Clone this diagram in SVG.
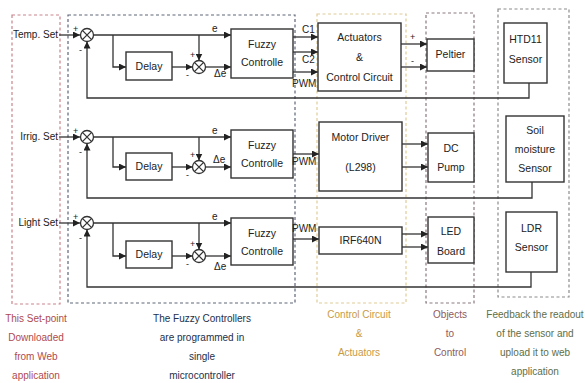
<svg xmlns="http://www.w3.org/2000/svg" width="585" height="383" viewBox="0 0 585 383">
<defs>
<marker id="ah" viewBox="0 0 8 8" refX="8" refY="4" markerWidth="7" markerHeight="7" markerUnits="userSpaceOnUse" orient="auto">
<path d="M0,0 L8,4 L0,8 Z" fill="#222"/>
</marker>
<style>
text{font-family:"Liberation Sans",Arial,sans-serif;font-size:10.5px;fill:#222}
.c{text-anchor:middle}
.s{font-size:10px}
.box{fill:#fff;stroke:#333;stroke-width:1.4}
.ln{fill:none;stroke:#333;stroke-width:1.3}
.ar{fill:none;stroke:#333;stroke-width:1.3;marker-end:url(#ah)}
.sum{fill:#fff;stroke:#333;stroke-width:1.3}
.dash{fill:none;stroke-width:1.2;stroke-dasharray:3,2.5}
.sm{font-size:9px}
</style>
</defs>
<rect width="585" height="383" fill="#fff"/>

<g id="groups">
<rect class="dash" x="12" y="15" width="48" height="289" stroke="#c9838a"/>
<rect class="dash" x="68" y="15" width="227" height="288" stroke="#5d6678"/>
<rect class="dash" x="317" y="14" width="89" height="289" stroke="#e0cc98"/>
<rect class="dash" x="426" y="13" width="48" height="290" stroke="#8a7a80"/>
<rect class="dash" x="498" y="9" width="71" height="288" stroke="#8c8c8c"/>
</g>

<g id="connectors">
<!-- row 1 -->
<line class="ar" x1="59" y1="35" x2="80" y2="35"/>
<line class="ar" x1="93.5" y1="35" x2="231" y2="35"/>
<polyline class="ar" points="113,35 113,67 126,67"/>
<line class="ar" x1="172" y1="67" x2="192.5" y2="67"/>
<line class="ar" x1="199" y1="35" x2="199" y2="60.5"/>
<line class="ar" x1="205.5" y1="67" x2="231" y2="67"/>
<polyline class="ar" points="529,83 529,98 87,98 87,41.5"/>
<line class="ar" x1="293" y1="37" x2="318" y2="37"/>
<line class="ar" x1="293" y1="52" x2="318" y2="52"/>
<line class="ar" x1="293" y1="72" x2="318" y2="72"/>
<line class="ar" x1="401" y1="44" x2="427" y2="44"/>
<line class="ar" x1="401" y1="67" x2="427" y2="67"/>
<!-- row 2 -->
<line class="ar" x1="59" y1="137" x2="80" y2="137"/>
<line class="ar" x1="93.5" y1="137" x2="231" y2="137"/>
<polyline class="ar" points="113,137 113,167 126,167"/>
<line class="ar" x1="172" y1="167" x2="192.5" y2="167"/>
<line class="ar" x1="199" y1="137" x2="199" y2="160.5"/>
<line class="ar" x1="205.5" y1="167" x2="231" y2="167"/>
<polyline class="ar" points="532,182 532,198 87,198 87,143.5"/>
<line class="ar" x1="293" y1="154" x2="319" y2="154"/>
<line class="ar" x1="402" y1="144" x2="428" y2="144"/>
<line class="ar" x1="402" y1="167" x2="428" y2="167"/>
<!-- row 3 -->
<line class="ar" x1="59" y1="223" x2="80" y2="223"/>
<line class="ar" x1="93.5" y1="223" x2="231" y2="223"/>
<polyline class="ar" points="113,223 113,256 126,256"/>
<line class="ar" x1="172" y1="256" x2="192.5" y2="256"/>
<line class="ar" x1="199" y1="223" x2="199" y2="249.5"/>
<line class="ar" x1="205.5" y1="256" x2="231" y2="256"/>
<polyline class="ar" points="531,272 531,287 87,287 87,229.5"/>
<line class="ar" x1="293" y1="239" x2="319" y2="239"/>
<line class="ar" x1="402" y1="234" x2="428" y2="234"/>
<line class="ar" x1="402" y1="247" x2="428" y2="247"/>
</g>

<g id="sum1a"><circle class="sum" cx="87" cy="35" r="6.5"/><path class="ln" d="M82.4,30.4 L91.6,39.6 M91.6,30.4 L82.4,39.6"/></g>
<g id="sum1b"><circle class="sum" cx="199" cy="67" r="6.5"/><path class="ln" d="M194.4,62.4 L203.6,71.6 M203.6,62.4 L194.4,71.6"/></g>
<g id="sum2a"><circle class="sum" cx="87" cy="137" r="6.5"/><path class="ln" d="M82.4,132.4 L91.6,141.6 M91.6,132.4 L82.4,141.6"/></g>
<g id="sum2b"><circle class="sum" cx="199" cy="167" r="6.5"/><path class="ln" d="M194.4,162.4 L203.6,171.6 M203.6,162.4 L194.4,171.6"/></g>
<g id="sum3a"><circle class="sum" cx="87" cy="223" r="6.5"/><path class="ln" d="M82.4,218.4 L91.6,227.6 M91.6,218.4 L82.4,227.6"/></g>
<g id="sum3b"><circle class="sum" cx="199" cy="256" r="6.5"/><path class="ln" d="M194.4,251.4 L203.6,260.6 M203.6,251.4 L194.4,260.6"/></g>

<g id="delay1"><rect class="box" x="126" y="52" width="46" height="28"/><text class="c" x="149" y="70">Delay</text></g>
<g id="delay2"><rect class="box" x="126" y="153" width="46" height="27"/><text class="c" x="149" y="170">Delay</text></g>
<g id="delay3"><rect class="box" x="126" y="241" width="46" height="27"/><text class="c" x="149" y="258">Delay</text></g>

<g id="fuzzy1"><rect class="box" x="231" y="29" width="62" height="49"/><text class="c" x="262" y="48">Fuzzy</text><text class="c" x="262" y="66">Controlle</text></g>
<g id="fuzzy2"><rect class="box" x="231" y="130" width="62" height="48"/><text class="c" x="262" y="149">Fuzzy</text><text class="c" x="262" y="167">Controlle</text></g>
<g id="fuzzy3"><rect class="box" x="231" y="218" width="62" height="47"/><text class="c" x="262" y="237">Fuzzy</text><text class="c" x="262" y="255">Controlle</text></g>

<g id="actuators"><rect class="box" x="318" y="23" width="83" height="68"/><text class="c" x="359.5" y="41">Actuators</text><text class="c" x="359.5" y="61">&amp;</text><text class="c" x="359.5" y="81">Control Circuit</text></g>
<g id="motordriver"><rect class="box" x="319" y="122" width="83" height="69"/><text class="c" x="360.5" y="141">Motor Driver</text><text class="c" x="360.5" y="171">(L298)</text></g>
<g id="irf640n"><rect class="box" x="319" y="227" width="83" height="27"/><text class="c" x="360.5" y="244">IRF640N</text></g>

<g id="peltier"><rect class="box" x="427" y="39" width="47" height="32"/><text class="c" x="450.5" y="58">Peltier</text></g>
<g id="dcpump"><rect class="box" x="428" y="133" width="46" height="49"/><text class="c" x="451" y="152">DC</text><text class="c" x="451" y="171">Pump</text></g>
<g id="ledboard"><rect class="box" x="428" y="217" width="46" height="46"/><text class="c" x="451" y="235">LED</text><text class="c" x="451" y="255">Board</text></g>

<g id="htd11"><rect class="box" x="504" y="23" width="43" height="60"/><text class="c" x="525.5" y="43">HTD11</text><text class="c" x="525.5" y="63">Sensor</text></g>
<g id="soil"><rect class="box" x="506" y="116" width="58" height="66"/><text class="c" x="535" y="134">Soil</text><text class="c" x="535" y="153">moisture</text><text class="c" x="535" y="172">Sensor</text></g>
<g id="ldr"><rect class="box" x="506" y="212" width="51" height="60"/><text class="c" x="531.5" y="232">LDR</text><text class="c" x="531.5" y="251">Sensor</text></g>

<g id="labels">
<text x="58" y="38" text-anchor="end" class="s">Temp. Set</text>
<text x="58" y="140" text-anchor="end" class="s">Irrig. Set</text>
<text x="58" y="226" text-anchor="end" class="s">Light Set</text>
<text class="sm" x="73" y="32">+</text><text class="sm" x="79" y="53">-</text>
<text class="sm" x="73" y="134">+</text><text class="sm" x="79" y="155">-</text>
<text class="sm" x="73" y="220">+</text><text class="sm" x="79" y="241">-</text>
<text class="sm" x="190" y="58">+</text><text class="sm" x="186" y="78">-</text>
<text class="sm" x="190" y="158">+</text><text class="sm" x="186" y="178">-</text>
<text class="sm" x="190" y="247">+</text><text class="sm" x="186" y="267">-</text>
<text class="s" x="212" y="32">e</text><text class="s" x="212" y="134">e</text><text class="s" x="212" y="220">e</text>
<text class="s" x="214" y="77">Δe</text><text class="s" x="213" y="163">Δe</text><text class="s" x="214" y="270">Δe</text>
<text class="s" x="302" y="33">C1</text>
<text class="s" x="302" y="63">C2</text>
<text class="s" x="292" y="87">PWM</text>
<text class="s" x="292" y="165">PWM</text>
<text class="s" x="292" y="232">PWM</text>
<text class="sm" x="410" y="40">+</text>
<text class="sm" x="411" y="64">-</text>
</g>

<g id="captions" font-size="10">
<text class="c s" x="36" y="322" fill="#b04a4e" style="fill:#b04a4e">This Set-point</text>
<text class="c s" x="36" y="341" style="fill:#b04a4e">Downloaded</text>
<text class="c s" x="36" y="360" style="fill:#b04a4e">from Web</text>
<text class="c s" x="36" y="379" style="fill:#b04a4e">application</text>
<text class="c s" x="202" y="322" style="fill:#23304a">The Fuzzy Controllers</text>
<text class="c s" x="202" y="341" style="fill:#23304a">are programmed in</text>
<text class="c s" x="202" y="360" style="fill:#23304a">single</text>
<text class="c s" x="202" y="379" style="fill:#23304a">microcontroller</text>
<text class="c s" x="359" y="318" style="fill:#c99a45">Control Circuit</text>
<text class="c s" x="359" y="337" style="fill:#c99a45">&amp;</text>
<text class="c s" x="359" y="356" style="fill:#c99a45">Actuators</text>
<text class="c s" x="450" y="318" style="fill:#8e5a5e">Objects</text>
<text class="c s" x="450" y="337" style="fill:#8e5a5e">to</text>
<text class="c s" x="450" y="356" style="fill:#8e5a5e">Control</text>
<text class="c s" x="535" y="318" style="fill:#5e6e48">Feedback the readout</text>
<text class="c s" x="535" y="337" style="fill:#5e6e48">of the sensor and</text>
<text class="c s" x="535" y="356" style="fill:#5e6e48">upload it to web</text>
<text class="c s" x="535" y="375" style="fill:#5e6e48">application</text>
</g>
</svg>
